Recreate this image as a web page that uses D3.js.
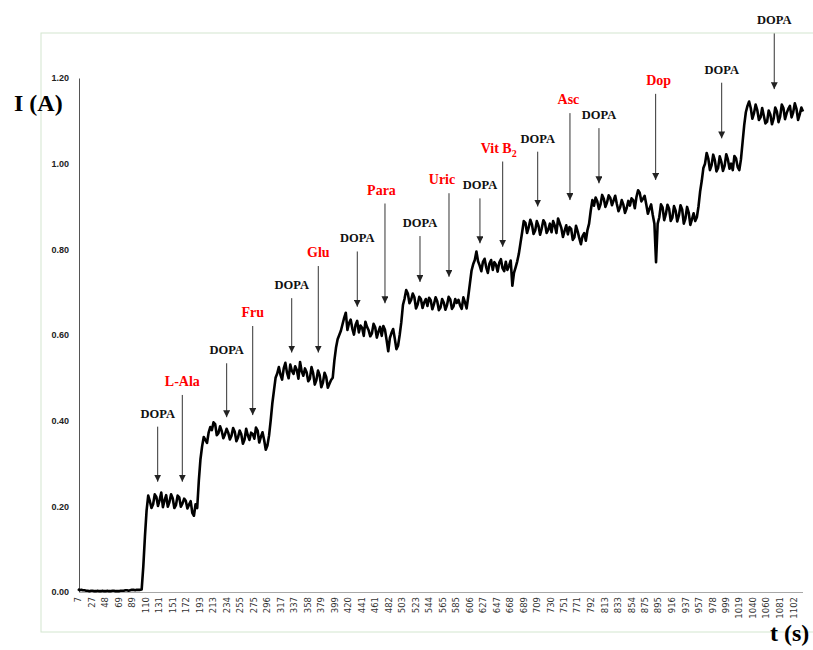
<!DOCTYPE html>
<html>
<head>
<meta charset="utf-8">
<script src="https://cdn.jsdelivr.net/npm/d3@7"></script>
<style>
  body { margin: 0; background: #fff; }
  svg { display: block; }
</style>
</head>
<body>
<svg width="813" height="650"></svg>
<script>
// ---- data ----
// current (A) sampled every 5 s starting at t = 7 s
let startTime = 7;
let sampleStep = 5;
let current = [
    0.007, 0.005, 0.004, 0.003, 0.003, 0.002, 0.003, 0.002, 0.002, 0.003,
    0.002, 0.003, 0.002, 0.003, 0.003, 0.004, 0.004, 0.005, 0.005, 0.005,
    0.06, 0.19,
    0.212, 0.205, 0.222, 0.215, 0.198, 0.226, 0.210, 0.219, 0.203, 0.221, 0.207, 0.213, 0.204,
    0.185, 0.205,
    0.26, 0.34, 0.355, 0.372,
    0.378, 0.392, 0.371, 0.376, 0.368, 0.372, 0.365, 0.374, 0.361, 0.368, 0.356, 0.366, 0.372,
    0.358, 0.377, 0.362, 0.355,
    0.342,
    0.40, 0.47, 0.51,
    0.507, 0.522, 0.512, 0.531, 0.509, 0.518, 0.537, 0.505, 0.513, 0.498, 0.511, 0.495, 0.506,
    0.489, 0.502, 0.486,
    0.50, 0.57, 0.60, 0.625,
    0.652, 0.628, 0.615, 0.624, 0.606, 0.617, 0.631, 0.611, 0.604, 0.618, 0.608, 0.598, 0.612,
    0.562, 0.605, 0.592, 0.575,
    0.63, 0.685,
    0.697, 0.682, 0.688, 0.671, 0.684, 0.676, 0.668, 0.681, 0.672, 0.679, 0.664, 0.676, 0.670,
    0.683, 0.667, 0.675, 0.669, 0.688, 0.662,
    0.72, 0.765,
    0.795, 0.762, 0.771, 0.758, 0.767, 0.752, 0.764, 0.769, 0.756, 0.771, 0.762, 0.715, 0.758,
    0.79, 0.84,
    0.862, 0.851, 0.858, 0.844, 0.855, 0.849, 0.861, 0.846, 0.840, 0.855, 0.872, 0.850, 0.843,
    0.835, 0.848, 0.828, 0.842, 0.812, 0.838,
    0.845, 0.89,
    0.902, 0.912, 0.905, 0.918, 0.910, 0.920, 0.914, 0.906, 0.898, 0.904, 0.896, 0.902, 0.915,
    0.922, 0.932, 0.918, 0.905, 0.895,
    0.88, 0.77, 0.875,
    0.898, 0.882, 0.895, 0.874, 0.890, 0.879, 0.893, 0.872, 0.886, 0.870, 0.866,
    0.90, 0.96, 1.0,
    1.012, 0.996, 1.008, 0.990, 1.004, 0.995, 1.010, 1.000, 1.018, 0.992,
    1.01, 1.09, 1.135,
    1.130, 1.118, 1.125, 1.108, 1.112, 1.098, 1.115, 1.105, 1.122, 1.110, 1.130, 1.118, 1.135,
    1.120, 1.128, 1.115, 1.122
];

// readings taken half way between the samples above (t = 9.5 s, 14.5 s, ...)
let currentMid = [
    0.004, 0.004, 0.003, 0.002, 0.003, 0.002, 0.002, 0.003, 0.002, 0.002,
    0.003, 0.002, 0.002, 0.003, 0.004, 0.003, 0.005, 0.004, 0.005,
    0.006, 0.13, 0.225,
    0.196, 0.228, 0.201, 0.232, 0.214, 0.199, 0.228, 0.196, 0.225, 0.199, 0.218, 0.195, 0.212,
    0.178, 0.196,
    0.31, 0.362, 0.348, 0.385,
    0.396, 0.366, 0.387, 0.359, 0.381, 0.356, 0.383, 0.352, 0.377, 0.346, 0.381, 0.355, 0.369,
    0.384, 0.349, 0.373,
    0.332, 0.365, 0.44, 0.50, 0.525,
    0.496, 0.535, 0.499, 0.516, 0.527, 0.498, 0.515, 0.522, 0.492, 0.525, 0.484, 0.517, 0.478,
    0.512, 0.477,
    0.495, 0.54, 0.59, 0.61, 0.64,
    0.612, 0.636, 0.601, 0.633, 0.622, 0.598, 0.619, 0.597, 0.626, 0.594, 0.619, 0.621, 0.588,
    0.593, 0.614, 0.567,
    0.60, 0.67, 0.705,
    0.674, 0.697, 0.662, 0.689, 0.663, 0.684, 0.687, 0.660, 0.688, 0.658, 0.684, 0.659, 0.689,
    0.661, 0.684, 0.682, 0.661, 0.676,
    0.69, 0.75, 0.775,
    0.772, 0.749, 0.778, 0.745, 0.775, 0.770, 0.748, 0.777, 0.749, 0.752, 0.774, 0.745,
    0.772, 0.815, 0.866,
    0.838, 0.869, 0.836, 0.866, 0.834, 0.868, 0.838, 0.860, 0.866, 0.838, 0.861, 0.829, 0.856,
    0.852, 0.822, 0.855, 0.826, 0.831,
    0.82, 0.86, 0.915,
    0.921, 0.894, 0.927, 0.899, 0.926, 0.903, 0.925, 0.889, 0.915, 0.885, 0.913, 0.919, 0.896,
    0.938, 0.912, 0.925, 0.883,
    0.905, 0.86, 0.86, 0.905,
    0.868, 0.904, 0.866, 0.901, 0.865, 0.903, 0.860, 0.899, 0.857, 0.884,
    0.875, 0.935, 0.99, 1.025,
    0.985, 1.021, 0.982, 1.017, 0.983, 1.022, 0.988, 0.985, 1.012,
    0.985, 1.05, 1.12, 1.145,
    1.105, 1.138, 1.102, 1.130, 1.094, 1.124, 1.092, 1.131, 1.097, 1.138, 1.104, 1.128, 1.108,
    1.141, 1.102, 1.131
];

// category labels shown on the time axis
let timeTicks = [7, 27, 48, 69, 89, 110, 131, 151, 172, 193, 213, 234, 255, 275, 296, 317, 337,
    358, 379, 399, 420, 441, 461, 482, 503, 523, 544, 565, 585, 606, 627, 647, 668, 689, 709,
    730, 751, 771, 792, 813, 833, 854, 875, 895, 916, 937, 957, 978, 999, 1019, 1040, 1060,
    1081, 1102];
let currentTicks = [0, 0.2, 0.4, 0.6, 0.8, 1.0, 1.2];

// injections: name, time (s), arrow top and tip (A)
let injNames = ["DOPA", "L-Ala", "DOPA", "Fru", "DOPA", "Glu", "DOPA", "Para", "DOPA", "Uric",
    "DOPA", "Vit B", "DOPA", "Asc", "DOPA", "Dop", "DOPA", "DOPA"];
let injTimes = [129, 166.7, 234.6, 274.5, 334.2, 374.9, 434.6, 477, 530.6, 575, 622.4, 657.2,
    710.8, 760.2, 804.6, 891.4, 992.5, 1073];
let injTop = [0.386, 0.460, 0.534, 0.621, 0.686, 0.761, 0.795, 0.907, 0.831, 0.931, 0.919,
    1.005, 1.028, 1.118, 1.083, 1.163, 1.189, 1.304];
let injTip = [0.2575, 0.2575, 0.408, 0.413, 0.559, 0.559, 0.666, 0.674, 0.724, 0.736, 0.814,
    0.806, 0.900, 0.915, 0.954, 0.962, 1.059, 1.174];

// ---- layout ----
let svg = d3.select("svg");

let x = d3.scaleLinear().domain([7, 1117]).range([78, 803]);
let y = d3.scaleLinear().domain([0, 1.2]).range([592, 78]);

// merge the two sets of readings in time order
let trace = [];
current.forEach((v, i) => {
    trace.push({ t: startTime + i * sampleStep, v: v });
    if (i < currentMid.length) {
        trace.push({ t: startTime + i * sampleStep + sampleStep / 2, v: currentMid[i] });
    }
});

// pale frame round the plot
svg.append("rect")
    .attr("x", 41)
    .attr("y", 33)
    .attr("width", 800)
    .attr("height", 599)
    .attr("fill", "none")
    .attr("stroke", "#d3e6cf")
    .attr("stroke-width", 1);

// y axis
let yAxis = svg.append("g")
    .attr("transform", "translate(79,0)")
    .call(d3.axisLeft(y).tickValues(currentTicks).tickFormat(d3.format(".2f")).tickSize(0).tickPadding(10));
yAxis.select(".domain").attr("stroke", "#555");
yAxis.selectAll("text")
    .attr("font-family", "Liberation Sans, Arial, sans-serif")
    .attr("font-weight", "bold")
    .attr("font-size", 9)
    .attr("fill", "#222");

// x axis
let xAxis = svg.append("g")
    .attr("transform", "translate(0,592)")
    .call(d3.axisBottom(x).tickValues(timeTicks).tickFormat(d3.format("d")).tickSize(0).tickSizeOuter(0));
xAxis.select(".domain").attr("stroke", "#a8a8a8").attr("d", "M79,0.5H803");
xAxis.selectAll("text")
    .attr("font-family", "DejaVu Sans, sans-serif")
    .attr("font-size", 8.5)
    .attr("fill", "#333")
    .attr("text-anchor", "end")
    .attr("transform", "rotate(-90)")
    .attr("x", -5)
    .attr("y", 0)
    .attr("dy", "0.35em");

// axis titles
svg.append("text")
    .attr("x", 14)
    .attr("y", 111)
    .attr("font-family", "Liberation Serif, Times New Roman, serif")
    .attr("font-weight", "bold")
    .attr("font-size", 24)
    .text("I (A)");

svg.append("text")
    .attr("x", 770)
    .attr("y", 641)
    .attr("font-family", "Liberation Serif, Times New Roman, serif")
    .attr("font-weight", "bold")
    .attr("font-size", 24)
    .text("t (s)");

// current trace
let line = d3.line()
    .x((d) => x(d.t))
    .y((d) => y(d.v));

svg.append("path")
    .datum(trace)
    .attr("fill", "none")
    .attr("stroke", "#000")
    .attr("stroke-width", 2.6)
    .attr("stroke-linejoin", "round")
    .attr("d", line);

// arrow head
svg.append("defs")
    .append("marker")
    .attr("id", "head")
    .attr("viewBox", "0 0 10 10")
    .attr("refX", 10)
    .attr("refY", 5)
    .attr("markerWidth", 7)
    .attr("markerHeight", 7)
    .attr("markerUnits", "userSpaceOnUse")
    .attr("orient", "auto")
    .append("path")
    .attr("d", "M0,0L10,5L0,10Z")
    .attr("fill", "#222");

let injections = injNames.map((name, i) => ({
    name: name,
    t: injTimes[i],
    top: injTop[i],
    tip: injTip[i],
    red: name !== "DOPA"
}));

// small nudges so labels sit where the figure has them
let labelShift = { "Para": -3.5, "Uric": -7, "Vit B": -4, "Asc": -1.5, "Dop": 3 };

let inj = svg.append("g").selectAll("g")
    .data(injections)
    .enter()
    .append("g");

inj.append("line")
    .attr("x1", (d) => x(d.t))
    .attr("x2", (d) => x(d.t))
    .attr("y1", (d) => y(d.top))
    .attr("y2", (d) => y(d.tip))
    .attr("stroke", "#333")
    .attr("stroke-width", 1)
    .attr("marker-end", "url(#head)");

let labels = inj.append("text")
    .attr("x", (d) => x(d.t) + (labelShift[d.name] || 0))
    .attr("y", (d) => y(d.top) - 9)
    .attr("text-anchor", "middle")
    .attr("font-family", "Liberation Serif, Times New Roman, serif")
    .attr("font-weight", "bold")
    .attr("font-size", (d) => (d.red ? 14 : 12.5))
    .attr("fill", (d) => (d.red ? "#ff0000" : "#111"))
    .text((d) => d.name);

// subscript for vitamin B2
labels.filter((d) => d.name === "Vit B")
    .append("tspan")
    .attr("font-size", 10)
    .attr("dy", 4)
    .text("2");
</script>
</body>
</html>
